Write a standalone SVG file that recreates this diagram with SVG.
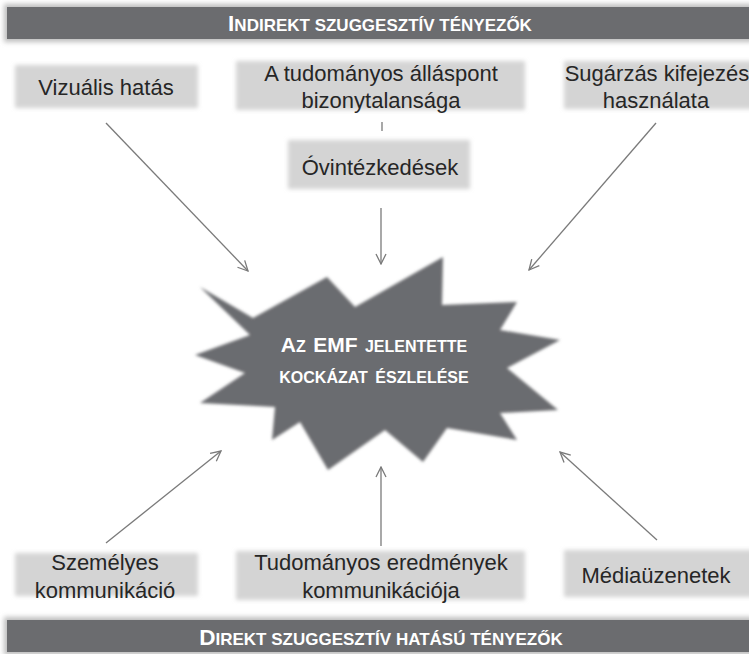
<svg xmlns="http://www.w3.org/2000/svg" width="749" height="654" viewBox="0 0 749 654">
  <defs>
    <filter id="soft" x="-10%" y="-20%" width="120%" height="140%">
      <feGaussianBlur stdDeviation="2.2"/>
    </filter>
    <filter id="halo" x="-5%" y="-50%" width="110%" height="200%">
      <feGaussianBlur stdDeviation="2.5"/>
    </filter>
    <filter id="starblur" x="-10%" y="-10%" width="120%" height="120%">
      <feGaussianBlur stdDeviation="1.8"/>
    </filter>
    <marker id="arr" viewBox="0 0 12 12" refX="11" refY="6" markerWidth="12" markerHeight="12" markerUnits="userSpaceOnUse" orient="auto">
      <path d="M1,1 L11,6 L1,11" fill="none" stroke="#7a7a7a" stroke-width="1.3"/>
    </marker>
  </defs>
  <style>
    .box { fill: #d4d4d4; filter: url(#soft); }
    .lbl { font-family: "Liberation Sans", Arial, sans-serif; font-size: 22px; fill: #262626; text-anchor: middle; }
    .bar { fill: #6b6c6f; }
    .barhalo { fill: #bdbdbd; filter: url(#halo); }
    .bt { font-family: "Liberation Sans", Arial, sans-serif; font-weight: bold; fill: #ffffff; text-anchor: middle; font-size: 17px; }
    .big { font-size: 22.5px; }
    .con { stroke: #7a7a7a; stroke-width: 1.3; fill: none; }
    .st { font-family: "Liberation Sans", Arial, sans-serif; font-weight: bold; fill: #ffffff; text-anchor: middle; font-size: 16px; }
    .stbig { font-size: 21px; }
  </style>

  <rect width="749" height="654" fill="#ffffff"/>

  <g id="banner-top">
    <rect class="barhalo" x="4" y="4" width="750" height="38"/>
    <rect class="bar" x="7" y="7" width="745" height="32"/>
    <text class="bt" x="380" y="31"><tspan class="big">I</tspan>NDIREKT SZUGGESZTÍV TÉNYEZŐK</text>
  </g>

  <g id="banner-bottom">
    <rect class="barhalo" x="4" y="617" width="750" height="38"/>
    <rect class="bar" x="7" y="620" width="745" height="32"/>
    <text class="bt" x="381" y="645"><tspan class="big">D</tspan>IREKT SZUGGESZTÍV HATÁSÚ TÉNYEZŐK</text>
  </g>

  <g id="connectors">
    <line class="con" x1="106" y1="123" x2="248" y2="271" marker-end="url(#arr)"/>
    <line class="con" x1="656" y1="123" x2="529" y2="270" marker-end="url(#arr)"/>
    <line class="con" x1="381" y1="208" x2="381" y2="264" marker-end="url(#arr)"/>
    <line class="con" x1="382" y1="122" x2="382" y2="131"/>
    <line class="con" x1="106" y1="543" x2="221" y2="451" marker-end="url(#arr)"/>
    <line class="con" x1="381" y1="546" x2="381" y2="467" marker-end="url(#arr)"/>
    <line class="con" x1="657" y1="540" x2="560" y2="452" marker-end="url(#arr)"/>
  </g>

  <g id="node-vizualis">
    <rect class="box" x="15" y="65" width="183" height="43"/>
    <text class="lbl" x="106" y="95">Vizuális hatás</text>
  </g>

  <g id="node-bizonytalansag">
    <rect class="box" x="236" y="61" width="289" height="49"/>
    <text class="lbl" x="381" y="81">A tudományos álláspont</text>
    <text class="lbl" x="381" y="108">bizonytalansága</text>
  </g>

  <g id="node-sugarzas">
    <rect class="box" x="564" y="61" width="190" height="48"/>
    <text class="lbl" x="657" y="81">Sugárzás kifejezés</text>
    <text class="lbl" x="656" y="108">használata</text>
  </g>

  <g id="node-ovintezkedesek">
    <rect class="box" x="288" y="140" width="182" height="49"/>
    <text class="lbl" x="380" y="175">Óvintézkedések</text>
  </g>

  <g id="node-kockazat">
    <polygon fill="#6b6c6f" filter="url(#starblur)" points="200,287 253,318 327,277 355,307 443,257 442,305 517,302 500,330 560,340 507,368 558,410 500,413 517,440 447,428 423,462 385,430 328,470 300,422 272,440 275,407 200,403 245,373 195,355 250,335"/>
    <text class="st" x="374" y="352" word-spacing="3"><tspan class="stbig">A</tspan>Z <tspan class="stbig">EMF</tspan> JELENTETTE</text>
    <text class="st" x="374" y="383" word-spacing="3">KOCKÁZAT ÉSZLELÉSE</text>
  </g>

  <g id="node-szemelyes">
    <rect class="box" x="15" y="553" width="183" height="43"/>
    <text class="lbl" x="105" y="570">Személyes</text>
    <text class="lbl" x="105" y="598">kommunikáció</text>
  </g>

  <g id="node-tudomanyos">
    <rect class="box" x="236" y="551" width="289" height="49"/>
    <text class="lbl" x="381" y="570">Tudományos eredmények</text>
    <text class="lbl" x="381" y="598">kommunikációja</text>
  </g>

  <g id="node-media">
    <rect class="box" x="564" y="550" width="190" height="47"/>
    <text class="lbl" x="656" y="583">Médiaüzenetek</text>
  </g>
</svg>
